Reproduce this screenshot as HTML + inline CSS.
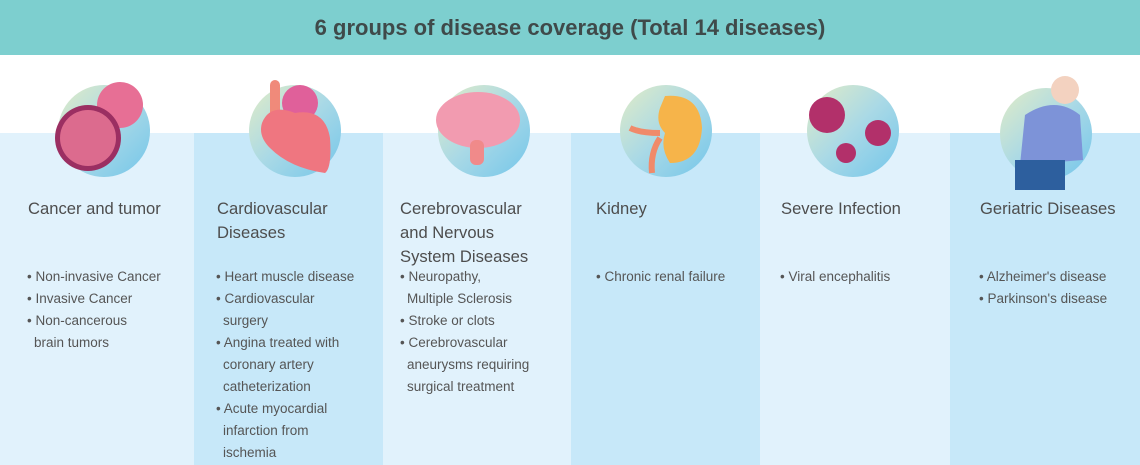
<!DOCTYPE html>
<html><head><meta charset="utf-8"><style>
*{margin:0;padding:0;box-sizing:border-box}
body{width:1140px;height:465px;position:relative;background:#fff;font-family:"Liberation Sans",sans-serif;overflow:hidden;color:#555}
#hdr{position:absolute;left:0;top:0;width:1140px;height:55px;background:#7dcfcf;text-align:center;line-height:55px;font-size:22px;font-weight:bold;color:#3f4a4a}
.col{position:absolute;top:133px;height:332px}
.l{background:#e1f2fc}.d{background:#c7e8f9}
.t{position:absolute;top:197px;font-size:16.6px;line-height:24px;color:#4d4d4d}
.b{position:absolute;top:266px;font-size:13.5px;line-height:22px;color:#555;list-style:none}
.b li.i{padding-left:7px}
.c{position:absolute;width:92px;height:92px;border-radius:50%;background:linear-gradient(135deg,#e2ecc6 0%,#a9d9e6 50%,#74c6ea 100%)}
</style></head><body>
<div id="hdr">6 groups of disease coverage (Total 14 diseases)</div>
<div class="col l" style="left:0;width:194px"></div>
<div class="col d" style="left:194px;width:189px"></div>
<div class="col l" style="left:383px;width:188px"></div>
<div class="col d" style="left:571px;width:189px"></div>
<div class="col l" style="left:760px;width:190px"></div>
<div class="col d" style="left:950px;width:190px"></div>

<div class="c" style="left:58px;top:85px"></div>
<svg style="position:absolute;left:50px;top:80px" width="100" height="100"><circle cx="70" cy="25" r="23" fill="#e76f95"/><circle cx="38" cy="58" r="33" fill="#9b2f62"/><circle cx="38" cy="58" r="28" fill="#ec7a9a" opacity=".8"/></svg>
<div class="c" style="left:249px;top:85px"></div>
<svg style="position:absolute;left:250px;top:78px" width="100" height="100"><ellipse cx="50" cy="25" rx="18" ry="18" fill="#e0609a"/><rect x="20" y="2" width="10" height="40" rx="5" fill="#f08a7a"/><path d="M12 45 Q20 25 45 35 Q75 30 80 60 Q82 90 75 95 Q40 90 20 70 Q8 58 12 45Z" fill="#ef7680"/></svg>
<div class="c" style="left:438px;top:85px"></div>
<svg style="position:absolute;left:430px;top:85px" width="100" height="90"><ellipse cx="48" cy="35" rx="42" ry="28" fill="#f29bb0"/><rect x="40" y="55" width="14" height="25" rx="6" fill="#f08a8a"/></svg>
<div class="c" style="left:620px;top:85px"></div>
<svg style="position:absolute;left:620px;top:88px" width="90" height="90"><path d="M45 8 Q80 5 82 40 Q80 75 50 75 Q40 60 45 45 Q35 35 40 20Z" fill="#f6b44a"/><path d="M40 45 Q20 45 10 40" stroke="#f08a6a" stroke-width="6" fill="none"/><path d="M40 50 Q30 65 32 85" stroke="#f08a6a" stroke-width="6" fill="none"/></svg>
<div class="c" style="left:807px;top:85px"></div>
<svg style="position:absolute;left:800px;top:85px" width="100" height="90"><circle cx="27" cy="30" r="18" fill="#b2306a"/><circle cx="78" cy="48" r="13" fill="#b2306a"/><circle cx="46" cy="68" r="10" fill="#b2306a"/></svg>
<div class="c" style="left:1000px;top:88px"></div>
<svg style="position:absolute;left:995px;top:70px" width="100" height="120"><circle cx="70" cy="20" r="14" fill="#f3d2c0"/><path d="M30 45 Q60 25 85 45 L88 90 L25 95Z" fill="#7d93d8"/><rect x="20" y="90" width="50" height="30" fill="#2d5f9e"/></svg>

<div class="t" style="left:28px">Cancer and tumor</div>
<div class="t" style="left:217px">Cardiovascular<br>Diseases</div>
<div class="t" style="left:400px">Cerebrovascular<br>and Nervous<br>System Diseases</div>
<div class="t" style="left:596px">Kidney</div>
<div class="t" style="left:781px">Severe Infection</div>
<div class="t" style="left:980px">Geriatric Diseases</div>

<ul class="b" style="left:27px"><li>• Non-invasive Cancer</li><li>• Invasive Cancer</li><li>• Non-cancerous</li><li class="i">brain tumors</li></ul>
<ul class="b" style="left:216px"><li>• Heart muscle disease</li><li>• Cardiovascular</li><li class="i">surgery</li><li>• Angina treated with</li><li class="i">coronary artery</li><li class="i">catheterization</li><li>• Acute myocardial</li><li class="i">infarction from</li><li class="i">ischemia</li></ul>
<ul class="b" style="left:400px"><li>• Neuropathy,</li><li class="i">Multiple Sclerosis</li><li>• Stroke or clots</li><li>• Cerebrovascular</li><li class="i">aneurysms requiring</li><li class="i">surgical treatment</li></ul>
<ul class="b" style="left:596px"><li>• Chronic renal failure</li></ul>
<ul class="b" style="left:780px"><li>• Viral encephalitis</li></ul>
<ul class="b" style="left:979px"><li>• Alzheimer's disease</li><li>• Parkinson's disease</li></ul>
</body></html>
